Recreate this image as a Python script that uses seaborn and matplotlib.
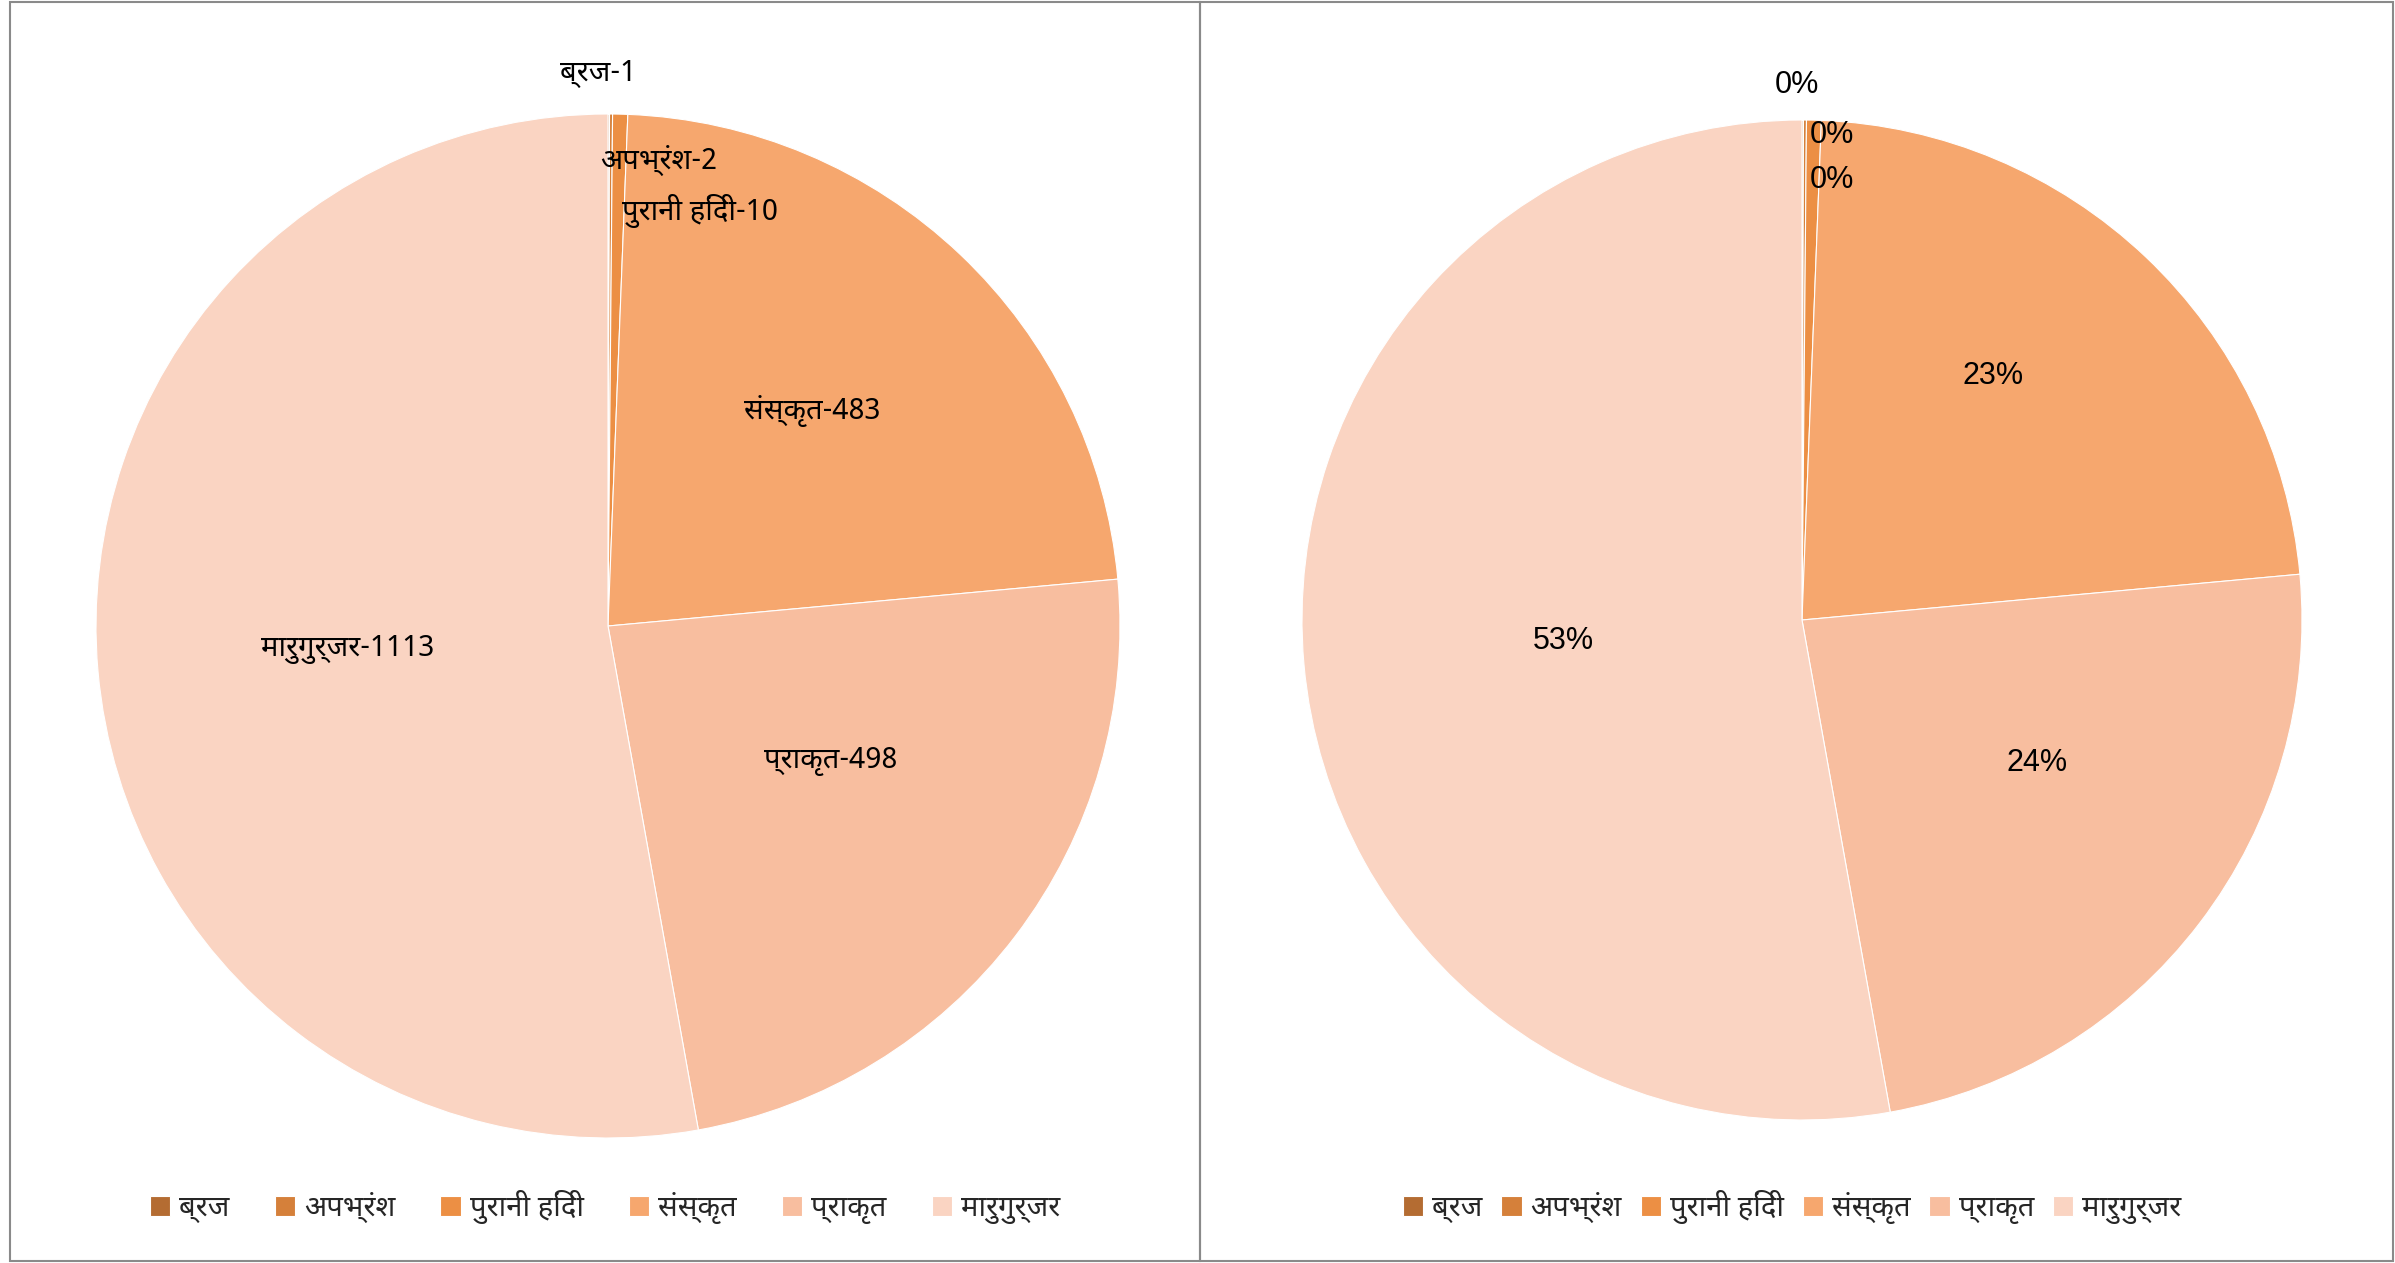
import matplotlib
import matplotlib.pyplot as plt
import seaborn as sns
from matplotlib.patches import Rectangle
import numpy as np

matplotlib.use("Agg")

sns.set_theme(style="white")

DEV_FONT = ["Noto Sans Devanagari", "FreeSans", "DejaVu Sans"]
LAT_FONT = ["Liberation Sans", "DejaVu Sans"]

languages = ["ब्रज", "अपभ्रंश", "पुरानी हिंदी", "संस्कृत", "प्राकृत", "मारुगुर्जर"]
counts = [1, 2, 10, 483, 498, 1113]
colors = ["#B46C32", "#D5803A", "#EC8F44", "#F6A76E", "#F8BE9F", "#FAD4C2"]

W, H = 2395, 1263
fig = plt.figure(figsize=(W / 100, H / 100), dpi=100)
palette = sns.color_palette(colors)

# panel frames
for x0, x1 in [(10, 1200), (1200, 2393)]:
    fig.add_artist(Rectangle((x0 / W, 2 / H), (x1 - x0) / W, (H - 4) / H,
                             transform=fig.transFigure, fill=False,
                             edgecolor="#8A8A8A", linewidth=1.5))


def pie_axes(cx, cy, r):
    return fig.add_axes([(cx - r) / W, (H - cy - r) / H, 2 * r / W, 2 * r / H])


# positions of labels for the three tiny slices (in radius units)
small_pos_left = [(-0.02, 1.08), (0.10, 0.91), (0.18, 0.81)]
small_pos_right = [(-0.01, 1.07), (0.06, 0.97), (0.06, 0.88)]
# (distance, angle shift in degrees) for the big slices
big_left = [(0.58, 0), (0.51, 6), (0.51, 0)]
big_right = [(0.62, 5.5), (0.55, 6), (0.48, 0)]


def draw_pie(ax, labels, small_pos, big_pos, fam, fs):
    wedges, _ = ax.pie(counts, colors=palette, startangle=90, counterclock=False,
                       wedgeprops=dict(edgecolor="white", linewidth=0.8))
    ax.set_xlim(-1, 1)
    ax.set_ylim(-1, 1)
    ax.set_aspect("equal")
    ax.axis("off")
    for i, (w, lab) in enumerate(zip(wedges, labels)):
        if i < 3:
            x, y = small_pos[i]
        else:
            d, shift = big_pos[i - 3]
            ang = np.deg2rad((w.theta1 + w.theta2) / 2 + shift)
            x, y = d * np.cos(ang), d * np.sin(ang)
        ax.text(x, y, lab, ha="center", va="center", fontsize=fs,
                family=fam, color="black")
    return wedges


total = sum(counts)
ax1 = pie_axes(608, 626, 512)
left_labels = [f"{l}-{c}" for l, c in zip(languages, counts)]
wedges = draw_pie(ax1, left_labels, small_pos_left, big_left, DEV_FONT, 21)

ax2 = pie_axes(1802, 620, 500)
pct_labels = [f"{round(c / total * 100):.0f}%" for c in counts]
draw_pie(ax2, pct_labels, small_pos_right, big_right, LAT_FONT, 22)

for cx, spacing in [(605, 1.55), (1792, 0.65)]:
    fig.legend(wedges, languages, loc="center",
               bbox_to_anchor=(cx / W, 1 - 1207 / H), ncol=6,
               frameon=False, handlelength=0.7, handleheight=0.7,
               handletextpad=0.3, columnspacing=spacing,
               prop=dict(family=DEV_FONT, size=21))

fig.savefig("out.png", dpi=100)
plt.close(fig)
